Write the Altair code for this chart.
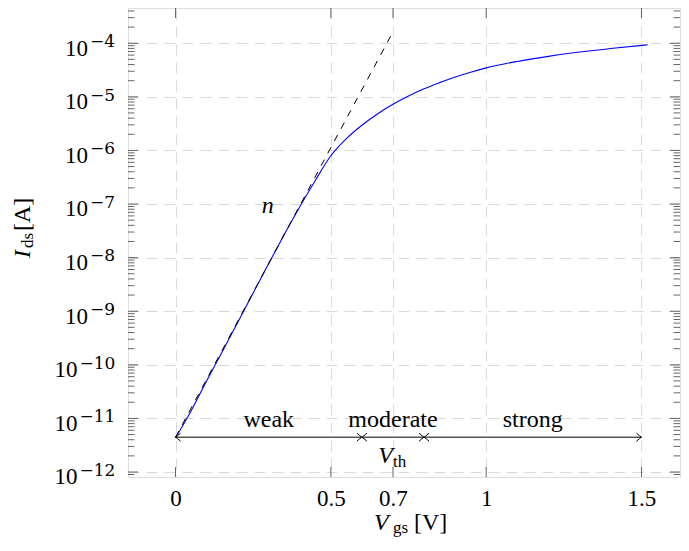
import altair as alt
import pandas as pd

# ---------------- data ----------------
vgs = [0.00, 0.05, 0.10, 0.15, 0.20, 0.25, 0.30, 0.35, 0.40, 0.45, 0.50,
       0.55, 0.60, 0.65, 0.70, 0.75, 0.80, 0.85, 0.90, 0.95, 1.00, 1.10,
       1.20, 1.30, 1.40, 1.52]
log_ids = [-11.36, -10.86, -10.30, -9.76, -9.21, -8.66, -8.11, -7.57, -7.05,
           -6.56, -6.10, -5.78, -5.53, -5.32, -5.14, -4.985, -4.85, -4.735,
           -4.63, -4.54, -4.46, -4.34, -4.245, -4.165, -4.10, -4.03]

tangent_vgs = [0.0, 0.697]
tangent_log = [-11.35, -3.82]

x_ticks = [0, 0.5, 0.7, 1, 1.5]
y_exponents = [-12, -11, -10, -9, -8, -7, -6, -5, -4]

regions = ["weak", "moderate", "strong"]
region_start = [0.0, 0.6, 0.8]
region_end = [0.6, 0.8, 1.5]
ARROW_LEVEL = 10 ** -11.35
REGION_LABEL_LEVEL = 10 ** -11.16
VTH_X = 0.7
VTH_LEVEL = 10 ** -11.83
N_X, N_LEVEL = 0.297, 10 ** -7.17

# ---------------- layout ----------------
W, H = 552, 469
FONT = "Liberation Serif"
xs = alt.Scale(domain=[-0.153, 1.624], nice=False, zero=False)
ys = alt.Scale(type="log", domain=[10 ** -12.093, 10 ** -3.343], nice=False)
GRID = "#d9d9d9"
TICK = "#555555"

curve = pd.DataFrame({"v": vgs, "i": [10 ** e for e in log_ids]})
tangent = pd.DataFrame({"v": tangent_vgs, "i": [10 ** e for e in tangent_log]})
reg = pd.DataFrame({"name": regions, "start": region_start, "end": region_end})
reg["mid"] = (reg["start"] + reg["end"]) / 2
reg["lvl"] = ARROW_LEVEL
reg["lab"] = REGION_LABEL_LEVEL

ymaj = pd.DataFrame({"v": [10.0 ** e for e in y_exponents]})
ymin_vals = [k * 10.0 ** e for e in range(-13, -2) for k in range(2, 10)]
ymin_vals = [v for v in ymin_vals if 10 ** -12.093 < v < 10 ** -3.343]
ymin = pd.DataFrame({"v": ymin_vals})
xmaj = pd.DataFrame({"v": x_ticks})

X = lambda f: alt.X(f, type="quantitative", scale=xs, title=None)
Y = lambda f: alt.Y(f, type="quantitative", scale=ys, title=None)

base = alt.Chart(curve).mark_line(color="#0000ff", strokeWidth=1.1, interpolate="monotone").encode(
    x=alt.X("v:Q", scale=xs, title=None,
            axis=alt.Axis(values=x_ticks, format="~g", grid=True, gridDash=[11, 7],
                          gridColor=GRID, gridWidth=1, ticks=False, domain=False,
                          labelFont=FONT, labelFontSize=23, labelColor="black",
                          labelPadding=10, labelBaseline="top", labelFlush=False,
                          labelOverlap=False, title=None)),
    y=alt.Y("i:Q", scale=ys, title=None,
            axis=alt.Axis(values=[10.0 ** e for e in y_exponents], grid=True,
                          gridDash=[11, 7], gridColor=GRID, gridWidth=1,
                          labels=False, ticks=False, domain=False, title=None)),
)

tan = alt.Chart(tangent).mark_line(color="black", strokeWidth=1, strokeDash=[7, 7]).encode(
    x=X("v"), y=Y("i"))

# inward ticks
def yticks(df, x0, x1):
    return alt.Chart(df).mark_rule(color=TICK, strokeWidth=0.9).encode(
        y=Y("v"), x=alt.value(x0), x2=alt.value(x1))

def xticks(y0, y1):
    return alt.Chart(xmaj).mark_rule(color=TICK, strokeWidth=0.9).encode(
        x=X("v"), y=alt.value(y0), y2=alt.value(y1))

tick_layers = [
    yticks(ymaj, 0, 10), yticks(ymaj, W - 10, W),
    yticks(ymin, 0, 6.5), yticks(ymin, W - 6.5, W),
    xticks(H, H - 10), xticks(0, 10),
]

# y tick labels 10^{e}, right edge of the whole label kept near the frame
ylab = pd.DataFrame({"e": y_exponents})
ylab["v"] = [10.0 ** e for e in y_exponents]
ylab["ten"] = "10"
ylab["exp"] = ["\u2212" + str(-e) for e in y_exponents]

ten_layer = alt.Chart(ylab).transform_calculate(
    px="length(datum.exp) > 2 ? -50.5 : -40"
).mark_text(font=FONT, fontSize=23, align="right", baseline="alphabetic",
            dy=12.4, color="black").encode(
    y=Y("v"), x=alt.X("px:Q", scale=None, title=None), text="ten:N")
exp_layer = alt.Chart(ylab).transform_calculate(
    px="length(datum.exp) > 2 ? -48.5 : -38"
).mark_text(font="DejaVu Serif", fontSize=17, align="left", baseline="alphabetic",
            dy=3.8, color="black").encode(
    y=Y("v"), x=alt.X("px:Q", scale=None, title=None), text="exp:N")

# region arrows
rule = alt.Chart(reg).mark_rule(color="black", strokeWidth=1).encode(
    x=X("start"), x2="end", y=Y("lvl"))
tip_r = alt.Chart(reg).mark_point(shape="M-1.25,-1 Q-0.4,-0.25 0,0 Q-0.4,0.25 -1.25,1",
                                  filled=False, size=64, color="black", strokeWidth=1,
                                  opacity=1).encode(x=X("end"), y=Y("lvl"))
tip_l = alt.Chart(reg).mark_point(shape="M1.25,-1 Q0.4,-0.25 0,0 Q0.4,0.25 1.25,1",
                                  filled=False, size=64, color="black", strokeWidth=1,
                                  opacity=1).encode(x=X("start"), y=Y("lvl"))
reg_text = alt.Chart(reg).mark_text(font=FONT, fontSize=24, align="center",
                                    baseline="alphabetic", color="black").encode(
    x=X("mid"), y=Y("lab"), text="name:N")

ann = pd.DataFrame({"x": [VTH_X, VTH_X, N_X], "y": [VTH_LEVEL, VTH_LEVEL, N_LEVEL],
                    "t": ["V", "th", "n"], "k": ["V", "s", "n"]})
vth_v = alt.Chart(ann[ann.k == "V"]).mark_text(font=FONT, fontSize=24, fontStyle="italic",
                                               align="right", baseline="alphabetic",
                                               color="black").encode(
    x=X("x"), y=Y("y"), text="t:N")
vth_s = alt.Chart(ann[ann.k == "s"]).mark_text(font=FONT, fontSize=17, align="left",
                                               baseline="alphabetic", dy=4, dx=0,
                                               color="black").encode(
    x=X("x"), y=Y("y"), text="t:N")
n_txt = alt.Chart(ann[ann.k == "n"]).mark_text(font=FONT, fontSize=24, fontStyle="italic",
                                               align="center", baseline="alphabetic",
                                               color="black").encode(
    x=X("x"), y=Y("y"), text="t:N")

# axis titles built from pieces (math italic + subscript)
def piece(text, x, y, size, italic=False, angle=0):
    kw = dict(font=FONT, fontSize=size, align="left", baseline="alphabetic",
              color="black", angle=angle)
    if italic:
        kw["fontStyle"] = "italic"
    return alt.Chart(pd.DataFrame({"t": [text]})).mark_text(**kw).encode(
        x=alt.value(x), y=alt.value(y), text="t:N")

titles = [
    piece("V", 246, 521.5, 24, italic=True),
    piece("gs", 265, 525, 17),
    piece("[V]", 286, 521.5, 24),
    piece("I", -98, 250, 24, italic=True, angle=270),
    piece("ds", -95.5, 240, 17, angle=270),
    piece("[A]", -98, 223, 24, angle=270),
]

chart = alt.layer(
    base, tan, *tick_layers, ten_layer, exp_layer, rule, tip_r, tip_l, reg_text,
    vth_v, vth_s, n_txt, *titles
).properties(
    width=W, height=H,
    autosize=alt.AutoSizeParams(type="none"),
    padding={"left": 120, "top": 0, "right": 1, "bottom": 60},
).configure_view(stroke="black", strokeWidth=1).configure(background="white")

chart.save("out.html", embed_options={"renderer": "svg", "actions": False})
